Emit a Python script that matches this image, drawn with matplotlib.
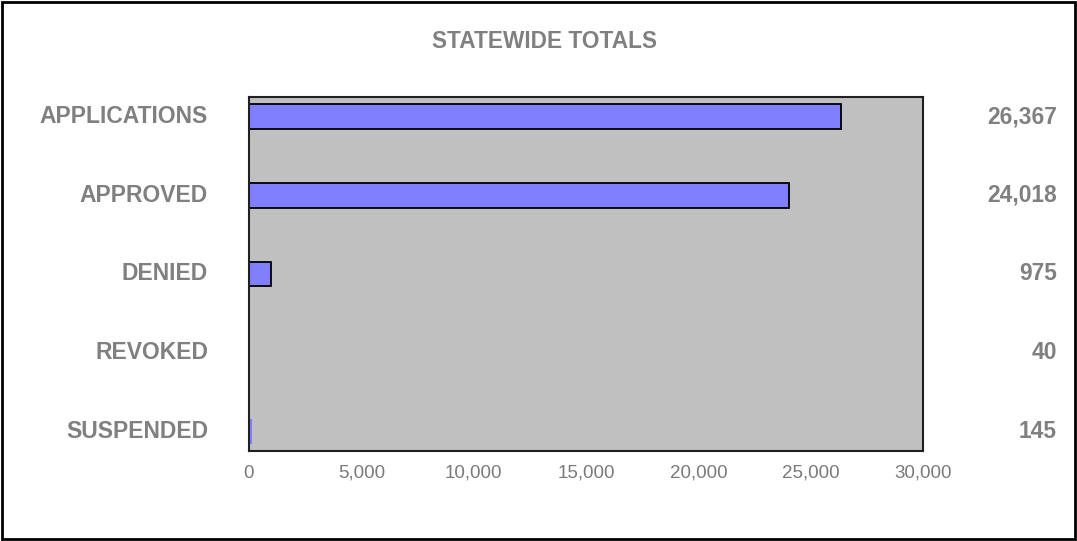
import matplotlib
matplotlib.use("Agg")
import matplotlib.pyplot as plt
from matplotlib.ticker import FuncFormatter
from matplotlib.patches import Rectangle
from matplotlib.transforms import blended_transform_factory

categories = ["APPLICATIONS", "APPROVED", "DENIED", "REVOKED", "SUSPENDED"]
values = [26367, 24018, 975, 40, 145]
xticks = [0, 5000, 10000, 15000, 20000, 25000, 30000]
title = "STATEWIDE TOTALS"

plt.rcParams['font.family'] = ['Liberation Sans', 'DejaVu Sans']

fig = plt.figure(figsize=(10.77, 5.41), dpi=100)
fig.patch.set_facecolor('white')
fig.patches.append(Rectangle((0.0015, 0.003), 0.997, 0.994, transform=fig.transFigure,
                             fill=False, edgecolor='black', linewidth=2))

ax = fig.add_axes([249/1077, 90/541, 674/1077, 354/541])
ax.set_facecolor('#c0c0c0')
y = list(range(len(categories)))
lws = [1.3 if v > 500 else 0 for v in values]
ax.barh(y, values, height=0.31, color='#8080ff', edgecolor='black', linewidth=lws)
ax.set_ylim(4.25, -0.25)
ax.set_xlim(0, 30000)
ax.set_xticks(xticks)
ax.xaxis.set_major_formatter(FuncFormatter(lambda v, p: f"{int(v):,}"))
ax.tick_params(axis='x', length=0, pad=10, labelsize=13.5, labelcolor='#7a7a7a')
ax.set_yticks(y)
ax.set_yticklabels(categories)
ax.tick_params(axis='y', length=0, pad=29.5)
for lab in ax.get_yticklabels():
    lab.set_fontsize(16.5)
    lab.set_fontweight('bold')
    lab.set_color('#808080')
    lab.set_verticalalignment('center')
for s in ax.spines.values():
    s.set_linewidth(1.5)
    s.set_color('#202020')

tr = blended_transform_factory(fig.transFigure, ax.transData)
for yi, v in zip(y, values):
    ax.text(1057/1077, yi, f"{v:,}", transform=tr, ha='right', va='center',
            fontsize=16.4, fontweight='bold', color='#808080', clip_on=False)

fig.text(544/1077, 1 - 41/541, title, ha='center', va='center',
         fontsize=16.3, fontweight='bold', color='#808080')

fig.savefig("out.png", dpi=100)
